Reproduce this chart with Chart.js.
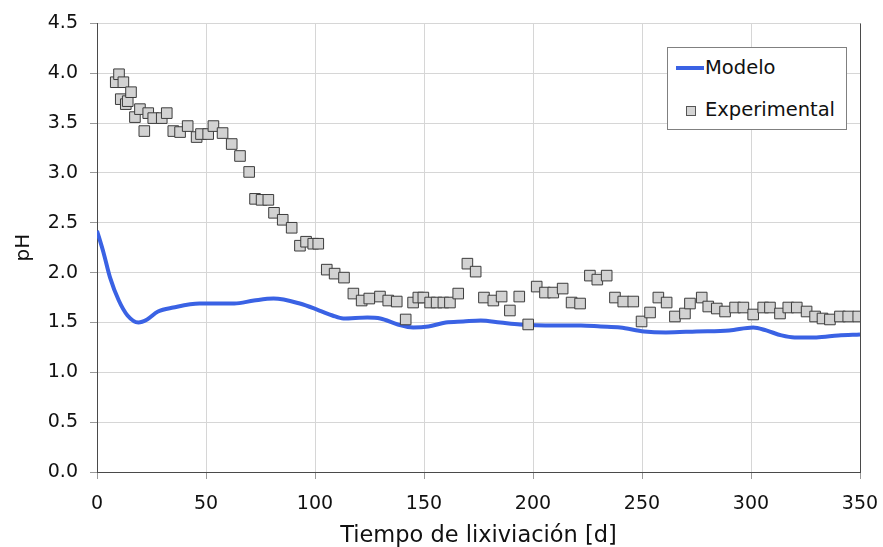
<!DOCTYPE html>
<html>
<head>
<meta charset="utf-8">
<script src="https://cdn.jsdelivr.net/npm/chart.js@4/dist/chart.umd.min.js"></script>
<style>
  html, body { margin: 0; padding: 0; background: #fff; }
  #wrap { position: relative; width: 883px; height: 547px; }
  #legend {
    position: absolute; left: 667px; top: 47px; width: 178px; height: 81px;
    border: 1px solid #808080; background: #fff;
    font-family: "DejaVu Sans", sans-serif; font-size: 19.5px; color: #111;
  }
  .row { position: absolute; left: 0; height: 24px; line-height: 24px; }
  .row span.txt { position: absolute; left: 37px; white-space: nowrap; }
  .line { position: absolute; left: 8px; top: 10px; width: 28px; height: 4px; background: #3a62e4; }
  .box { position: absolute; left: 18px; top: 8px; width: 8px; height: 8px; background: #d4d4d4; border: 1px solid #555; }
</style>
</head>
<body>
<div id="wrap">
  <canvas id="phChart" width="883" height="547"></canvas>
  <div id="legend"></div>
</div>
<script>
/* data */
var modelDays = [0, 3, 6, 10, 14, 19, 23, 28, 35, 47, 55, 63, 72, 81, 93, 102, 108, 113, 124, 130, 138, 145, 152, 160, 168, 176, 185, 194, 210, 222, 231, 240, 251, 261, 275, 290, 301, 307, 314, 320, 330, 340, 350];
var modelPh = [2.42, 2.2, 1.95, 1.72, 1.57, 1.5, 1.53, 1.61, 1.65, 1.69, 1.69, 1.69, 1.72, 1.74, 1.69, 1.62, 1.57, 1.54, 1.55, 1.54, 1.48, 1.45, 1.46, 1.5, 1.51, 1.52, 1.5, 1.48, 1.47, 1.47, 1.46, 1.45, 1.41, 1.4, 1.41, 1.42, 1.45, 1.42, 1.37, 1.35, 1.35, 1.37, 1.38];

var expDays = [8.6, 10.1, 10.9, 12.1, 13.2, 14.1, 15.6, 17.4, 19.7, 21.7, 23.5, 25.8, 29.7, 32, 35, 38.1, 41.6, 45.7, 47.7, 51, 53.4, 57.6, 61.8, 65.6, 69.8, 72.5, 75.5, 78.6, 81.2, 85.2, 89.3, 93.1, 95.9, 99.2, 101.5, 105.4, 109, 113.3, 117.6, 121.4, 124.9, 129.8, 133.6, 137.5, 141.6, 145, 147.4, 149.7, 152.8, 155.8, 158.9, 161.9, 165.7, 169.9, 173.7, 177.5, 181.8, 185.6, 189.4, 193.7, 197.8, 201.7, 205.5, 209.3, 213.6, 217.7, 221.6, 226.1, 229.5, 233.8, 237.6, 241.4, 246, 249.8, 253.7, 257.5, 261.3, 265.1, 269.7, 272, 277.4, 280.4, 284.3, 288.1, 292.7, 296.5, 301, 305.6, 308.7, 313.3, 317.1, 321, 325.5, 329.4, 332.8, 336.2, 340.8, 344.6, 349.2];
var expPh = [3.91, 3.99, 3.74, 3.91, 3.69, 3.72, 3.81, 3.56, 3.64, 3.42, 3.6, 3.55, 3.55, 3.6, 3.42, 3.41, 3.47, 3.36, 3.39, 3.39, 3.47, 3.4, 3.29, 3.17, 3.01, 2.74, 2.73, 2.73, 2.6, 2.53, 2.45, 2.27, 2.31, 2.29, 2.29, 2.03, 1.99, 1.95, 1.79, 1.72, 1.74, 1.76, 1.72, 1.71, 1.53, 1.7, 1.75, 1.75, 1.7, 1.7, 1.7, 1.7, 1.79, 2.09, 2.01, 1.75, 1.72, 1.76, 1.62, 1.76, 1.48, 1.86, 1.8, 1.8, 1.84, 1.7, 1.69, 1.97, 1.93, 1.97, 1.75, 1.71, 1.71, 1.51, 1.6, 1.75, 1.7, 1.56, 1.59, 1.69, 1.75, 1.66, 1.64, 1.61, 1.65, 1.65, 1.58, 1.65, 1.65, 1.59, 1.65, 1.65, 1.61, 1.56, 1.54, 1.53, 1.56, 1.56, 1.56];

var xTicks = [0, 50, 100, 150, 200, 250, 300, 350];
var yTicks = [0, 0.5, 1, 1.5, 2, 2.5, 3, 3.5, 4, 4.5];

var seriesNames = ['Modelo', 'Experimental'];

const toPoints = (xs, ys) => xs.map((x, i) => ({ x: x, y: ys[i] }));

var fontName = '"DejaVu Sans", sans-serif';
var gridGray = '#d6d6d6';
var axisGray = '#4a4a4a';

var ctx = document.getElementById("phChart");

var phChart = new Chart(ctx, {
    type: 'scatter',
    data: {
        datasets: [
            {
                label: seriesNames[0],
                data: toPoints(modelDays, modelPh),
                showLine: true,
                borderColor: '#3a62e4',
                borderWidth: 4,
                pointRadius: 0,
                cubicInterpolationMode: 'monotone',
                order: 1
            },
            {
                label: seriesNames[1],
                data: toPoints(expDays, expPh),
                pointStyle: 'rect',
                pointRadius: 7.5,
                backgroundColor: '#d2d2d2',
                borderColor: '#3c3c3c',
                borderWidth: 1,
                order: 0
            }
        ]
    },
    options: {
        responsive: false,
        animation: false,
        layout: { padding: { top: 22, right: 23, left: 0, bottom: 0 } },
        plugins: {
            legend: { display: false },
            tooltip: { enabled: false }
        },
        scales: {
            x: {
                type: 'linear',
                min: 0,
                max: 350,
                afterBuildTicks: (axis) => { axis.ticks = xTicks.map(v => ({ value: v })); },
                afterFit: (axis) => {
                    axis.height = 75;
                    // tick padding should not push the plot edges in
                    axis.paddingLeft = 0;
                    axis.paddingRight = 0;
                },
                grid: {
                    color: (c) => c.index === xTicks.length - 1 ? axisGray : gridGray,
                    tickColor: '#9a9a9a',
                    tickLength: 7
                },
                border: { color: axisGray, width: 1 },
                ticks: {
                    font: { family: fontName, size: 19 },
                    color: '#111',
                    padding: 14,
                    maxRotation: 0
                },
                title: {
                    display: true,
                    text: 'Tiempo de lixiviación [d]',
                    font: { family: fontName, size: 22.5, lineHeight: 1.0 },
                    color: '#111',
                    padding: { top: 0, bottom: 0 }
                }
            },
            y: {
                min: 0,
                max: 4.5,
                afterBuildTicks: (axis) => { axis.ticks = yTicks.map(v => ({ value: v })); },
                afterFit: (axis) => { axis.width = 97; },
                grid: {
                    color: gridGray,
                    tickColor: '#9a9a9a',
                    tickLength: 7
                },
                border: { color: axisGray, width: 1 },
                ticks: {
                    font: { family: fontName, size: 19 },
                    color: '#111',
                    padding: 12,
                    callback: (v) => v.toFixed(1)
                },
                title: {
                    display: true,
                    text: 'pH',
                    font: { family: fontName, size: 20 },
                    color: '#111',
                    padding: { top: 12, bottom: 0 }
                }
            }
        }
    }
});

// legend box in the top right corner
var legendEl = document.getElementById('legend');
legendEl.innerHTML =
    '<div class="row" style="top:8px"><div class="line"></div><span class="txt">' + seriesNames[0] + '</span></div>' +
    '<div class="row" style="top:50px"><div class="box"></div><span class="txt">' + seriesNames[1] + '</span></div>';
</script>
</body>
</html>
